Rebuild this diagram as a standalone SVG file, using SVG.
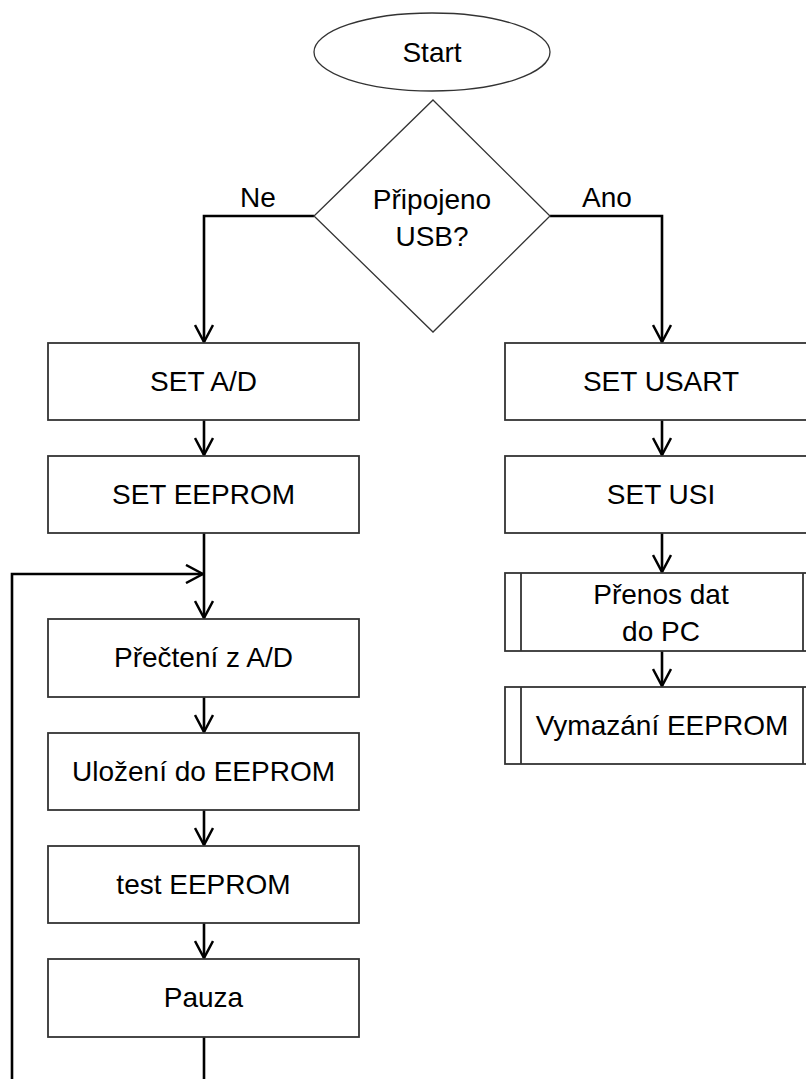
<svg xmlns="http://www.w3.org/2000/svg" width="806" height="1079" viewBox="0 0 806 1079">
<defs>
<style>
.box{fill:#fff;stroke:#333;stroke-width:1.8}
.shape{fill:#fff;stroke:#333;stroke-width:1.3}
.t{font-family:"Liberation Sans",Arial,sans-serif;font-size:28px;fill:#000;text-anchor:middle}
.c{fill:none;stroke:#000;stroke-width:2.6}
</style>
<marker id="arr" viewBox="0 0 20 20" refX="18" refY="10" markerWidth="20" markerHeight="20" markerUnits="userSpaceOnUse" orient="auto">
<path d="M1,1 L18,10 L1,19" fill="none" stroke="#000" stroke-width="2.5"/>
</marker>
</defs>
<rect width="806" height="1079" fill="#fff"/>
<g id="connectors">
<path class="c" d="M314,216 H204 V342" marker-end="url(#arr)"/>
<path class="c" d="M550,216 H662 V342" marker-end="url(#arr)"/>
<path class="c" d="M204,420 V455" marker-end="url(#arr)"/>
<path class="c" d="M204,533 V618" marker-end="url(#arr)"/>
<path class="c" d="M204,697 V732" marker-end="url(#arr)"/>
<path class="c" d="M204,810 V845" marker-end="url(#arr)"/>
<path class="c" d="M204,923 V958" marker-end="url(#arr)"/>
<path class="c" d="M204,1037 V1090"/>
<path class="c" d="M12,1090 V574 H203" marker-end="url(#arr)"/>
<path class="c" d="M662,420 V455" marker-end="url(#arr)"/>
<path class="c" d="M662,533 V572" marker-end="url(#arr)"/>
<path class="c" d="M662,651 V686" marker-end="url(#arr)"/>
<text class="t" x="258" y="207">Ne</text>
<text class="t" x="607" y="207">Ano</text>
</g>
<g id="start">
<ellipse class="shape" cx="432" cy="52" rx="118" ry="39"/>
<text class="t" x="432" y="62">Start</text>
</g>
<g id="decision">
<polygon class="shape" points="433,100 550,216 433,332 314,216"/>
<text class="t" x="432" y="209">Připojeno</text>
<text class="t" x="432" y="246">USB?</text>
</g>
<g id="set-ad">
<rect class="box" x="48" y="343" width="311" height="77"/>
<text class="t" x="203.5" y="391">SET A/D</text>
</g>
<g id="set-eeprom">
<rect class="box" x="48" y="456" width="311" height="77"/>
<text class="t" x="203.5" y="504">SET EEPROM</text>
</g>
<g id="precteni">
<rect class="box" x="48" y="619" width="311" height="78"/>
<text class="t" x="203.5" y="667">Přečtení z A/D</text>
</g>
<g id="ulozeni">
<rect class="box" x="48" y="733" width="311" height="77"/>
<text class="t" x="203.5" y="781">Uložení do EEPROM</text>
</g>
<g id="test">
<rect class="box" x="48" y="846" width="311" height="77"/>
<text class="t" x="203.5" y="894">test EEPROM</text>
</g>
<g id="pauza">
<rect class="box" x="48" y="959" width="311" height="78"/>
<text class="t" x="203.5" y="1007">Pauza</text>
</g>
<g id="set-usart">
<rect class="box" x="505" y="343" width="313" height="77"/>
<text class="t" x="661" y="391">SET USART</text>
</g>
<g id="set-usi">
<rect class="box" x="505" y="456" width="313" height="77"/>
<text class="t" x="661" y="504">SET USI</text>
</g>
<g id="prenos">
<rect class="box" x="505" y="573" width="313" height="78"/>
<line class="box" x1="521" y1="573" x2="521" y2="651"/>
<line class="box" x1="803" y1="573" x2="803" y2="651"/>
<text class="t" x="661" y="604">Přenos dat</text>
<text class="t" x="661" y="641">do PC</text>
</g>
<g id="vymazani">
<rect class="box" x="505" y="687" width="313" height="77"/>
<line class="box" x1="521" y1="687" x2="521" y2="764"/>
<line class="box" x1="803" y1="687" x2="803" y2="764"/>
<text class="t" x="662" y="735">Vymazání EEPROM</text>
</g>
</svg>
